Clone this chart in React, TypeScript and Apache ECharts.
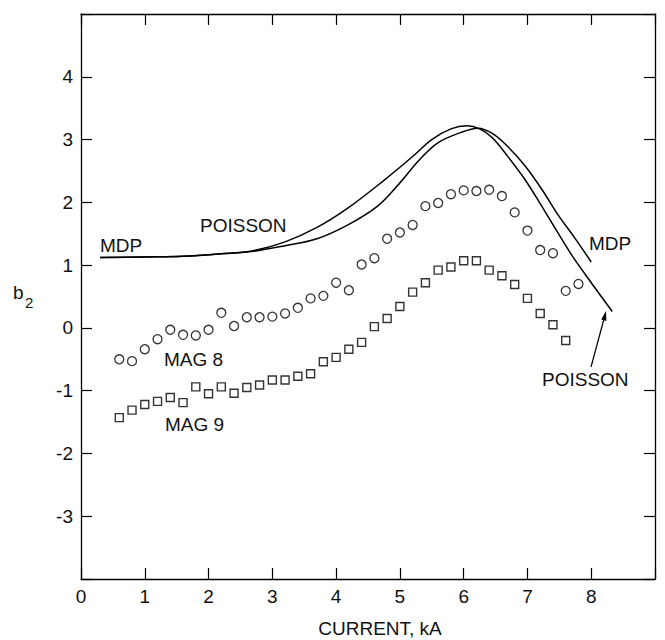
import React, { useEffect, useRef } from "react";
import * as echarts from "echarts";

// MAG 8 (circles)
const mag8X = [0.6, 0.8, 1.0, 1.2, 1.4, 1.6, 1.8, 2.0, 2.2, 2.4, 2.6, 2.8, 3.0, 3.2, 3.4, 3.6, 3.8, 4.0, 4.2, 4.4, 4.6, 4.8, 5.0, 5.2, 5.4, 5.6, 5.8, 6.0, 6.2, 6.4, 6.6, 6.8, 7.0, 7.2, 7.4, 7.6, 7.8];
const mag8Y = [-0.50, -0.53, -0.34, -0.18, -0.03, -0.11, -0.12, -0.03, 0.24, 0.03, 0.17, 0.17, 0.18, 0.23, 0.32, 0.47, 0.51, 0.72, 0.60, 1.01, 1.11, 1.42, 1.52, 1.64, 1.94, 1.99, 2.13, 2.19, 2.18, 2.20, 2.10, 1.84, 1.55, 1.24, 1.19, 0.59, 0.70];

// MAG 9 (squares)
const mag9X = [0.6, 0.8, 1.0, 1.2, 1.4, 1.6, 1.8, 2.0, 2.2, 2.4, 2.6, 2.8, 3.0, 3.2, 3.4, 3.6, 3.8, 4.0, 4.2, 4.4, 4.6, 4.8, 5.0, 5.2, 5.4, 5.6, 5.8, 6.0, 6.2, 6.4, 6.6, 6.8, 7.0, 7.2, 7.4, 7.6];
const mag9Y = [-1.43, -1.31, -1.22, -1.17, -1.11, -1.19, -0.94, -1.05, -0.94, -1.04, -0.95, -0.91, -0.83, -0.83, -0.77, -0.73, -0.54, -0.47, -0.34, -0.23, 0.02, 0.15, 0.34, 0.57, 0.72, 0.92, 0.97, 1.07, 1.07, 0.92, 0.83, 0.69, 0.47, 0.23, 0.05, -0.20];

// POISSON curve
const poissonX = [0.3, 1.0, 1.6, 2.2, 2.7, 3.2, 3.7, 4.2, 4.75, 5.2, 5.5, 5.8, 6.05, 6.25, 6.45, 6.7, 6.95, 7.2, 7.45, 7.7, 8.0, 8.33];
const poissonY = [1.12, 1.13, 1.14, 1.18, 1.23, 1.37, 1.60, 1.92, 2.35, 2.73, 3.00, 3.17, 3.22, 3.17, 3.03, 2.72, 2.38, 1.98, 1.56, 1.15, 0.72, 0.26];

// MDP curve
const mdpX = [0.3, 1.0, 1.6, 2.2, 2.7, 3.2, 3.7, 4.2, 4.65, 5.0, 5.3, 5.6, 5.95, 6.22, 6.46, 6.71, 6.97, 7.23, 7.48, 7.73, 8.0];
const mdpY = [1.12, 1.13, 1.14, 1.18, 1.22, 1.31, 1.42, 1.65, 1.94, 2.31, 2.67, 2.95, 3.11, 3.18, 3.09, 2.87, 2.57, 2.20, 1.80, 1.45, 1.05];

const xTickLabels = ["0", "1", "2", "3", "4", "5", "6", "7", "8"];
const yTickLabels = ["-3", "-2", "-1", "0", "1", "2", "3", "4"];

const FONT = "'Liberation Sans', Arial, Helvetica, sans-serif";
const INK = "#111";

const zip = (xs: number[], ys: number[]) => xs.map((x, i) => [x, ys[i]]);

export default function App() {
  const ref = useRef<HTMLDivElement>(null);

  useEffect(() => {
    if (!ref.current) return;
    const chart = echarts.init(ref.current, null, { renderer: "svg" });

    const axisLine = { show: true, onZero: false, lineStyle: { color: "#000", width: 1.3 } };
    const axisTick = { show: true, inside: true, length: 11, lineStyle: { color: "#000", width: 1.2 } };

    const xFmt = (v: number) => (xTickLabels.includes(String(v)) ? String(v) : "");
    const yFmt = (v: number) => (yTickLabels.includes(String(v)) ? String(v) : "");

    const text = (t: string, x: number, y: number, size = 19, align = "left") => ({
      type: "text",
      x,
      y,
      style: { text: t, fill: INK, font: `${size}px ${FONT}`, textAlign: align, textVerticalAlign: "middle" },
    });

    chart.setOption({
      animation: false,
      backgroundColor: "#fff",
      grid: { left: 81, right: 10, top: 14, bottom: 61 },
      xAxis: [
        {
          type: "value", min: 0, max: 9, interval: 1, position: "bottom",
          axisLine, axisTick,
          axisLabel: { formatter: xFmt, fontSize: 19, color: INK, fontFamily: FONT, margin: 8 },
          splitLine: { show: false },
        },
        {
          type: "value", min: 0, max: 9, interval: 1, position: "top",
          axisLine, axisTick, axisLabel: { show: false }, splitLine: { show: false },
        },
      ],
      yAxis: [
        {
          type: "value", min: -4, max: 5, interval: 1, position: "left",
          axisLine, axisTick,
          axisLabel: { formatter: yFmt, fontSize: 19, color: INK, fontFamily: FONT, margin: 8 },
          splitLine: { show: false },
        },
        {
          type: "value", min: -4, max: 5, interval: 1, position: "right",
          axisLine, axisTick, axisLabel: { show: false }, splitLine: { show: false },
        },
      ],
      series: [
        {
          name: "POISSON", type: "line", data: zip(poissonX, poissonY), showSymbol: false, smooth: 0.35,
          lineStyle: { color: "#000", width: 1.5 }, xAxisIndex: 0, yAxisIndex: 0,
        },
        {
          name: "MDP", type: "line", data: zip(mdpX, mdpY), showSymbol: false, smooth: 0.35,
          lineStyle: { color: "#000", width: 1.5 }, xAxisIndex: 0, yAxisIndex: 0,
        },
        {
          name: "MAG 8", type: "scatter", data: zip(mag8X, mag8Y), symbol: "circle", symbolSize: 9,
          itemStyle: { color: "#fff", borderColor: "#000", borderWidth: 1.3 },
        },
        {
          name: "MAG 9", type: "scatter", data: zip(mag9X, mag9Y), symbol: "rect", symbolSize: 8,
          itemStyle: { color: "#fff", borderColor: "#000", borderWidth: 1.4 },
        },
      ],
      graphic: [
        text("MDP", 100, 245),
        text("POISSON", 200, 225),
        text("MAG 8", 164, 359),
        text("MAG 9", 165, 424),
        text("MDP", 589, 243),
        text("POISSON", 542, 379),
        text("CURRENT, kA", 380, 628, 19, "center"),
        text("b", 13, 292),
        text("2", 25, 302, 15),
        {
          type: "line",
          shape: { x1: 591, y1: 367, x2: 604.5, y2: 317 },
          style: { stroke: "#000", lineWidth: 1.2 },
        },
        {
          type: "polygon",
          shape: { points: [[606, 311], [606.4, 321], [601.2, 319.6]] },
          style: { fill: "#000" },
        },
      ],
    });

    return () => chart.dispose();
  }, []);

  return (
    <div
      ref={ref}
      style={{ position: "fixed", left: 0, top: 0, width: 665, height: 640, background: "#fff" }}
    />
  );
}
